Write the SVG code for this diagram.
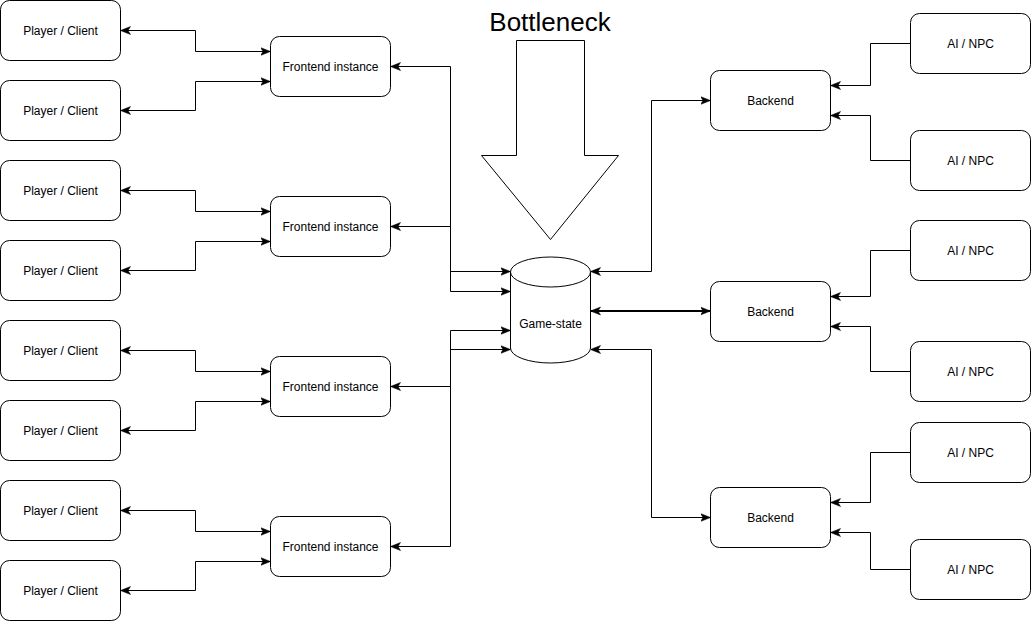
<svg xmlns="http://www.w3.org/2000/svg" width="1031" height="622" viewBox="0 0 1031 622">
<style>
.box{fill:#fff;stroke:#000;stroke-width:1}
.lbl{font-family:"Liberation Sans",Arial,Helvetica,sans-serif;font-size:12px;fill:#000;text-anchor:middle;dominant-baseline:central}
.c{fill:none;stroke:#000;stroke-width:1}
.bi{marker-start:url(#ah);marker-end:url(#ah)}
.one{marker-end:url(#ah)}
</style>
<defs>
<marker id="ah" viewBox="0 0 10 10" refX="9.5" refY="5" markerWidth="10" markerHeight="10" markerUnits="userSpaceOnUse" orient="auto-start-reverse">
<path d="M0,1 L10,5 L0,9 L2.5,5 Z" fill="#000" stroke="#000" stroke-width="0.5"/>
</marker>
</defs>
<rect width="1031" height="622" fill="#fff"/>

<g id="connectors">
<path class="c bi" d="M121,30.5 H195.5 V51.5 H270"/>
<path class="c bi" d="M121,110.5 H195.5 V81.5 H270"/>
<path class="c bi" d="M121,190.5 H195.5 V211.5 H270"/>
<path class="c bi" d="M121,270.5 H195.5 V241.5 H270"/>
<path class="c bi" d="M121,350.5 H195.5 V371.5 H270"/>
<path class="c bi" d="M121,430.5 H195.5 V401.5 H270"/>
<path class="c bi" d="M121,510.5 H195.5 V531.5 H270"/>
<path class="c bi" d="M121,590.5 H195.5 V561.5 H270"/>

<path class="c bi" d="M391,66.5 H450.5 V271.5 H510"/>
<path class="c bi" d="M391,226.5 H450.5 V291.5 H510"/>
<path class="c bi" d="M391,386.5 H450.5 V330.5 H510"/>
<path class="c bi" d="M391,546.5 H450.5 V349.5 H510"/>

<path class="c bi" d="M591,271.5 H651.5 V100.5 H710"/>
<path class="c bi" d="M591,311 H710" style="stroke-width:2"/>
<path class="c bi" d="M591,349.5 H651.5 V517.5 H710"/>

<path class="c one" d="M910,43.5 H870.5 V85.5 H831"/>
<path class="c one" d="M910,160.5 H870.5 V115.5 H831"/>
<path class="c one" d="M910,250.5 H870.5 V296.5 H831"/>
<path class="c one" d="M910,371.5 H870.5 V326.5 H831"/>
<path class="c one" d="M910,452.5 H870.5 V502.5 H831"/>
<path class="c one" d="M910,569.5 H870.5 V532.5 H831"/>
</g>

<g id="player1"><rect class="box" x="0.5" y="0.5" width="120" height="60" rx="9"/><text class="lbl" x="60.5" y="30.5">Player / Client</text></g>
<g id="player2"><rect class="box" x="0.5" y="80.5" width="120" height="60" rx="9"/><text class="lbl" x="60.5" y="110.5">Player / Client</text></g>
<g id="player3"><rect class="box" x="0.5" y="160.5" width="120" height="60" rx="9"/><text class="lbl" x="60.5" y="190.5">Player / Client</text></g>
<g id="player4"><rect class="box" x="0.5" y="240.5" width="120" height="60" rx="9"/><text class="lbl" x="60.5" y="270.5">Player / Client</text></g>
<g id="player5"><rect class="box" x="0.5" y="320.5" width="120" height="60" rx="9"/><text class="lbl" x="60.5" y="350.5">Player / Client</text></g>
<g id="player6"><rect class="box" x="0.5" y="400.5" width="120" height="60" rx="9"/><text class="lbl" x="60.5" y="430.5">Player / Client</text></g>
<g id="player7"><rect class="box" x="0.5" y="480.5" width="120" height="60" rx="9"/><text class="lbl" x="60.5" y="510.5">Player / Client</text></g>
<g id="player8"><rect class="box" x="0.5" y="560.5" width="120" height="60" rx="9"/><text class="lbl" x="60.5" y="590.5">Player / Client</text></g>

<g id="frontend1"><rect class="box" x="270.5" y="36.5" width="120" height="60" rx="9"/><text class="lbl" x="330.5" y="66.5">Frontend instance</text></g>
<g id="frontend2"><rect class="box" x="270.5" y="196.5" width="120" height="60" rx="9"/><text class="lbl" x="330.5" y="226.5">Frontend instance</text></g>
<g id="frontend3"><rect class="box" x="270.5" y="356.5" width="120" height="60" rx="9"/><text class="lbl" x="330.5" y="386.5">Frontend instance</text></g>
<g id="frontend4"><rect class="box" x="270.5" y="516.5" width="120" height="60" rx="9"/><text class="lbl" x="330.5" y="546.5">Frontend instance</text></g>

<g id="gamestate">
<path class="box" d="M510.5,272 A40,15 0 0 1 590.5,272 V348 A40,15 0 0 1 510.5,348 Z"/>
<path class="c" d="M510.5,272 A40,15 0 0 0 590.5,272"/>
<text class="lbl" x="550.5" y="323.5">Game-state</text>
</g>

<g id="bottleneck">
<path class="box" d="M516.5,40.5 H584.5 V155.5 H618.5 L550.5,239.5 L481.5,155.5 H516.5 Z" style="stroke-linejoin:miter"/>
<text x="550" y="31" style="font-family:'Liberation Sans',Arial,Helvetica,sans-serif;font-size:26px;fill:#000;text-anchor:middle">Bottleneck</text>
</g>

<g id="backend1"><rect class="box" x="710.5" y="70.5" width="120" height="60" rx="9"/><text class="lbl" x="770.5" y="100.5">Backend</text></g>
<g id="backend2"><rect class="box" x="710.5" y="281.5" width="120" height="60" rx="9"/><text class="lbl" x="770.5" y="311.5">Backend</text></g>
<g id="backend3"><rect class="box" x="710.5" y="487.5" width="120" height="60" rx="9"/><text class="lbl" x="770.5" y="517.5">Backend</text></g>

<g id="ai1"><rect class="box" x="910.5" y="13.5" width="120" height="60" rx="9"/><text class="lbl" x="970.5" y="43.5">AI / NPC</text></g>
<g id="ai2"><rect class="box" x="910.5" y="130.5" width="120" height="60" rx="9"/><text class="lbl" x="970.5" y="160.5">AI / NPC</text></g>
<g id="ai3"><rect class="box" x="910.5" y="220.5" width="120" height="60" rx="9"/><text class="lbl" x="970.5" y="250.5">AI / NPC</text></g>
<g id="ai4"><rect class="box" x="910.5" y="341.5" width="120" height="60" rx="9"/><text class="lbl" x="970.5" y="371.5">AI / NPC</text></g>
<g id="ai5"><rect class="box" x="910.5" y="422.5" width="120" height="60" rx="9"/><text class="lbl" x="970.5" y="452.5">AI / NPC</text></g>
<g id="ai6"><rect class="box" x="910.5" y="539.5" width="120" height="60" rx="9"/><text class="lbl" x="970.5" y="569.5">AI / NPC</text></g>
</svg>
